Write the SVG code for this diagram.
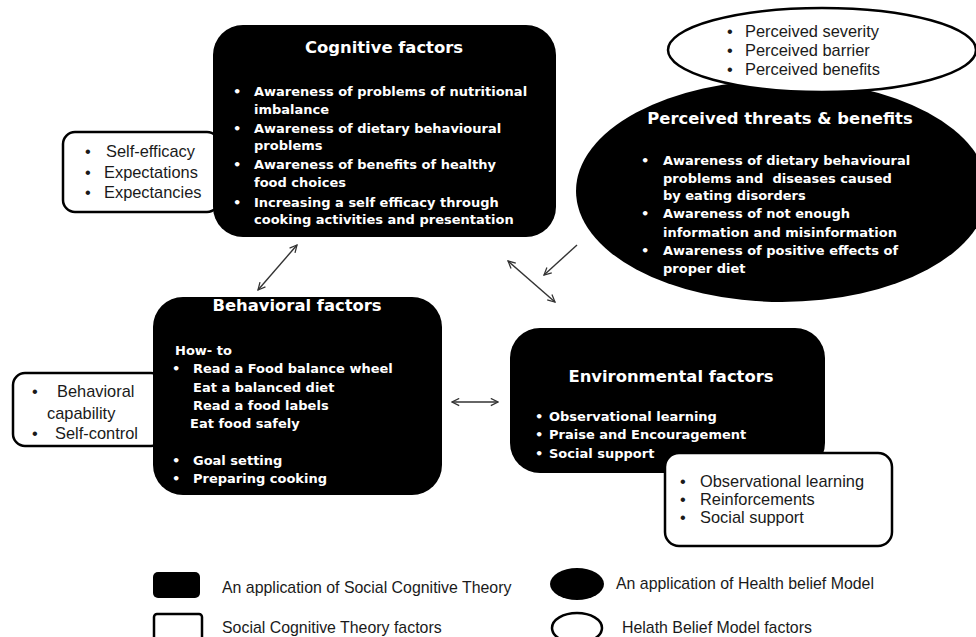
<svg xmlns="http://www.w3.org/2000/svg" width="976" height="637" viewBox="0 0 976 637">
  <defs>
    <style>
      .blk { fill: #000; }
      .wht { fill: #fff; stroke: #000; stroke-width: 2.5; }
      .ttl { font-family: "DejaVu Sans", "Liberation Sans", sans-serif; font-weight: bold; font-size: 16.4px; fill: #fff; text-anchor: middle; }
      .bd { font-family: "DejaVu Sans", "Liberation Sans", sans-serif; font-weight: bold; font-size: 13px; fill: #fff; }
      .rg { font-family: "Liberation Sans", Arial, sans-serif; font-size: 16.4px; fill: #1a1a1a; }
      .lg { font-family: "Liberation Sans", Arial, sans-serif; font-size: 15.9px; fill: #1a1a1a; }
      .arr { fill: none; stroke: #333; stroke-width: 1.4; marker-start: url(#head); marker-end: url(#head); }
      .one { fill: none; stroke: #333; stroke-width: 1.4; marker-end: url(#head); }
    </style>
    <marker id="head" viewBox="0 0 10 10" refX="9" refY="5" markerWidth="9" markerHeight="9" markerUnits="userSpaceOnUse" orient="auto-start-reverse">
      <path d="M1,1 L9,5 L1,9" fill="none" stroke="#333" stroke-width="1.4"/>
    </marker>
  </defs>

  <!-- Social Cognitive Theory factor boxes sitting behind the black nodes -->
  <g id="sct-cognitive">
    <rect class="wht" x="63" y="132" width="156" height="80" rx="12"/>
    <text class="rg" x="85" y="157">•</text><text class="rg" x="106" y="157">Self-efficacy</text>
    <text class="rg" x="85" y="178">•</text><text class="rg" x="104" y="178">Expectations</text>
    <text class="rg" x="85" y="198">•</text><text class="rg" x="104" y="198">Expectancies</text>
  </g>

  <g id="sct-behavioral">
    <rect class="wht" x="13" y="373" width="150" height="73" rx="12"/>
    <text class="rg" x="32" y="397">•</text><text class="rg" x="57" y="397">Behavioral</text>
    <text class="rg" x="47" y="419">capability</text>
    <text class="rg" x="32" y="439">•</text><text class="rg" x="55" y="439">Self-control</text>
  </g>

  <!-- Cognitive factors -->
  <g id="cognitive">
    <rect class="blk" x="213" y="25" width="343" height="212" rx="30"/>
    <text class="ttl" x="384" y="53">Cognitive factors</text>
    <text class="bd" x="233" y="96">•</text><text class="bd" x="254" y="96">Awareness of problems of nutritional</text>
    <text class="bd" x="254" y="114">imbalance</text>
    <text class="bd" x="233" y="133">•</text><text class="bd" x="254" y="133">Awareness of dietary behavioural</text>
    <text class="bd" x="254" y="150">problems</text>
    <text class="bd" x="233" y="169">•</text><text class="bd" x="254" y="169">Awareness of benefits of healthy</text>
    <text class="bd" x="254" y="187">food choices</text>
    <text class="bd" x="233" y="207">•</text><text class="bd" x="254" y="207">Increasing a self efficacy through</text>
    <text class="bd" x="254" y="224">cooking activities and presentation</text>
  </g>

  <!-- Perceived threats & benefits (Health Belief Model) -->
  <g id="perceived">
    <ellipse class="blk" cx="782" cy="191" rx="206" ry="111"/>
    <text class="ttl" x="780" y="124">Perceived threats &amp; benefits</text>
    <text class="bd" x="641" y="165">•</text><text class="bd" x="663" y="165">Awareness of dietary behavioural</text>
    <text class="bd" x="663" y="183" xml:space="preserve">problems and  diseases caused</text>
    <text class="bd" x="663" y="200">by eating disorders</text>
    <text class="bd" x="641" y="218">•</text><text class="bd" x="663" y="218">Awareness of not enough</text>
    <text class="bd" x="663" y="237">information and misinformation</text>
    <text class="bd" x="641" y="255">•</text><text class="bd" x="663" y="255">Awareness of positive effects of</text>
    <text class="bd" x="663" y="273">proper diet</text>
  </g>

  <g id="hbm-factors">
    <ellipse class="wht" cx="822" cy="50" rx="154" ry="42"/>
    <text class="rg" x="727" y="37">•</text><text class="rg" x="745" y="37">Perceived severity</text>
    <text class="rg" x="727" y="56">•</text><text class="rg" x="745" y="56">Perceived barrier</text>
    <text class="rg" x="727" y="75">•</text><text class="rg" x="745" y="75">Perceived benefits</text>
  </g>

  <!-- Behavioral factors -->
  <g id="behavioral">
    <rect class="blk" x="153" y="297" width="289" height="198" rx="30"/>
    <text class="ttl" x="297" y="311">Behavioral factors</text>
    <text class="bd" x="175" y="355">How- to</text>
    <text class="bd" x="172" y="373">•</text><text class="bd" x="193" y="373">Read a Food balance wheel</text>
    <text class="bd" x="193" y="392">Eat a balanced diet</text>
    <text class="bd" x="193" y="410">Read a food labels</text>
    <text class="bd" x="190" y="428">Eat food safely</text>
    <text class="bd" x="172" y="465">•</text><text class="bd" x="193" y="465">Goal setting</text>
    <text class="bd" x="172" y="483">•</text><text class="bd" x="193" y="483">Preparing cooking</text>
  </g>

  <!-- Environmental factors -->
  <g id="environmental">
    <rect class="blk" x="510" y="328" width="315" height="145" rx="30"/>
    <text class="ttl" x="671" y="382">Environmental factors</text>
    <text class="bd" x="535" y="421">•</text><text class="bd" x="549" y="421">Observational learning</text>
    <text class="bd" x="535" y="439">•</text><text class="bd" x="549" y="439">Praise and Encouragement</text>
    <text class="bd" x="535" y="458">•</text><text class="bd" x="549" y="458">Social support</text>
  </g>

  <g id="sct-environmental">
    <rect class="wht" x="665" y="453" width="227" height="93" rx="14"/>
    <text class="rg" x="680" y="487">•</text><text class="rg" x="700" y="487">Observational learning</text>
    <text class="rg" x="680" y="505">•</text><text class="rg" x="700" y="505">Reinforcements</text>
    <text class="rg" x="680" y="523">•</text><text class="rg" x="700" y="523">Social support</text>
  </g>

  <!-- connectors -->
  <g id="connectors">
    <line class="arr" x1="258" y1="290" x2="297" y2="245"/>
    <line class="arr" x1="508" y1="261" x2="555" y2="302"/>
    <line class="one" x1="577" y1="245" x2="544" y2="275"/>
    <line class="arr" x1="452" y1="402" x2="498" y2="402"/>
  </g>

  <!-- legend -->
  <g id="legend">
    <rect class="blk" x="153" y="572" width="47" height="26" rx="5"/>
    <text class="lg" x="222" y="593">An application of Social Cognitive Theory</text>
    <rect class="wht" x="154" y="614" width="48" height="34" rx="3"/>
    <text class="lg" x="222" y="633">Social Cognitive Theory factors</text>
    <ellipse class="blk" cx="577" cy="584" rx="27" ry="16"/>
    <text class="lg" x="616" y="589">An application of Health belief Model</text>
    <ellipse class="wht" cx="577" cy="628" rx="25" ry="15"/>
    <text class="lg" x="622" y="633">Helath Belief Model factors</text>
  </g>
</svg>
